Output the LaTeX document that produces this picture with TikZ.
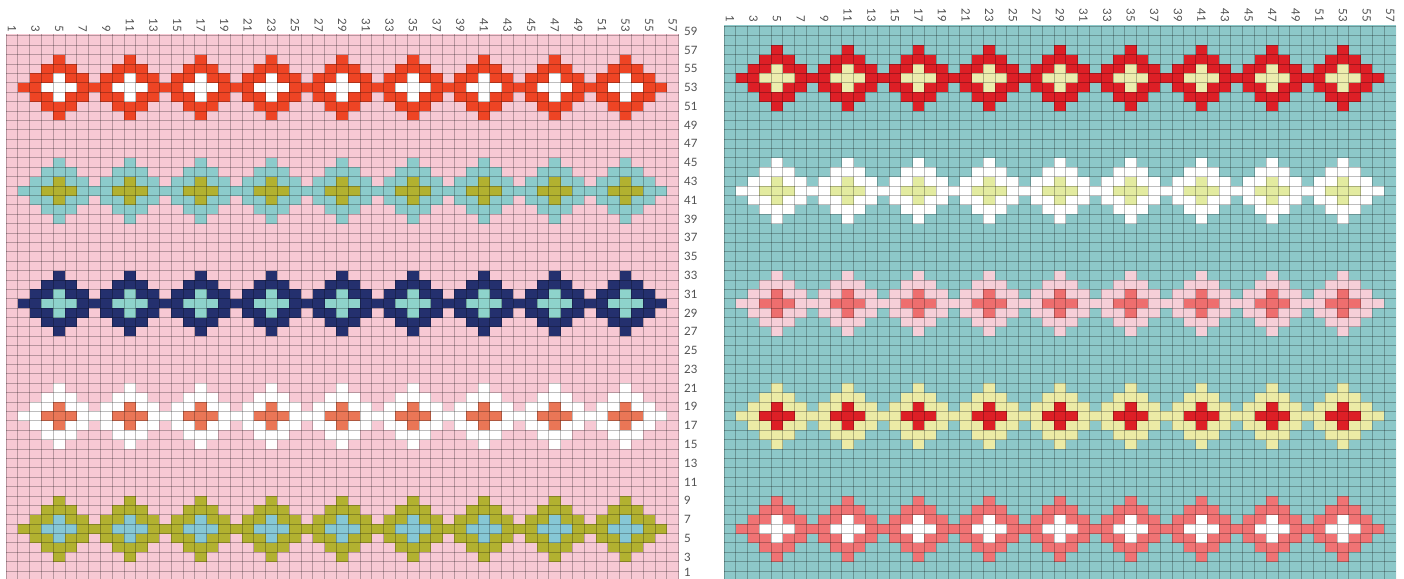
\documentclass[tikz,border=0pt]{standalone}
\usepackage{fontspec}
\setmainfont{Lato}
\definecolor{pinkbg}{HTML}{F7C9D4}
\definecolor{redL}{HTML}{EE4424}
\definecolor{tealL}{HTML}{8CCBCB}
\definecolor{oliveL}{HTML}{B2B130}
\definecolor{navyL}{HTML}{24306E}
\definecolor{lteal}{HTML}{8ED3CB}
\definecolor{orangeL}{HTML}{EA7656}
\definecolor{lblue}{HTML}{86C7D5}
\definecolor{tealbg}{HTML}{8DC8C9}
\definecolor{redR}{HTML}{DD1F26}
\definecolor{paleY}{HTML}{EDEDAE}
\definecolor{paleG}{HTML}{E3EBA0}
\definecolor{palepink}{HTML}{F6CFD8}
\definecolor{salmon}{HTML}{EE6E6E}
\definecolor{paleyellow}{HTML}{ECEBA6}
\definecolor{coral}{HTML}{F07374}
\definecolor{lbl}{HTML}{505050}
% #1 x0, #2 cell width, #3 y of top of row 59, #4 centre row, #5 outer, #6 inner
\newcommand\drawband[6]{%
  \foreach \m in {0,...,8}{%
    \pgfmathsetmacro\cc{5+6*\m}%
    \foreach \d in {-3,...,3}{%
      \pgfmathsetmacro\k{3-abs(\d)}%
      \fill[#5] ({#1+(\cc-\k-1)*#2},{#3+(59-#4-\d)*9.39}) rectangle ({#1+(\cc+\k)*#2},{#3+(60-#4-\d)*9.39});
    }%
    \fill[#6] ({#1+(\cc-2)*#2},{#3+(59-#4)*9.39}) rectangle ({#1+(\cc+1)*#2},{#3+(60-#4)*9.39});
    \fill[#6] ({#1+(\cc-1)*#2},{#3+(58-#4)*9.39}) rectangle ({#1+\cc*#2},{#3+(61-#4)*9.39});
  }%
}
\newcommand\drawgrid[3]{% #1 x0, #2 cell width, #3 top of row 59
  \foreach \i in {0,...,57}{\draw[gridline] ({#1+\i*#2},#3) -- ({#1+\i*#2},{#3+59*9.39});}
  \foreach \j in {0,...,59}{\draw[gridline] (#1,{#3+\j*9.39}) -- ({#1+57*#2},{#3+\j*9.39});}
}
\tikzset{
  gridline/.style={draw=black,opacity=0.26,line width=1pt},
  collabel/.style={rotate=-90,anchor=east,inner sep=0pt,text=lbl,font=\fontsize{11.5}{12}\selectfont},
  rowlabel/.style={anchor=west,inner sep=0pt,text=lbl,font=\fontsize{11.5}{12}\selectfont}
}
\begin{document}
\begin{tikzpicture}[x=1pt,y=-1pt]
\useasboundingbox (0,0) rectangle (1404,578);
\fill[white] (0,0) rectangle (1404,578);
% ---------- left chart ----------
\begin{scope}
  \clip (6,35) rectangle (679,578);
  \fill[pinkbg] (6,26.5) rectangle (679,581);
  \drawband{6}{11.8}{26.5}{53}{redL}{white}
  \drawband{6}{11.8}{26.5}{42}{tealL}{oliveL}
  \drawband{6}{11.8}{26.5}{30}{navyL}{lteal}
  \drawband{6}{11.8}{26.5}{18}{white}{orangeL}
  \drawband{6}{11.8}{26.5}{6}{oliveL}{lblue}
  \drawgrid{6}{11.8}{26.5}
\end{scope}
\foreach \c in {1,3,...,57}{
  \node[collabel] (lc\c) at ({6+(\c-0.5)*11.8},32) {\c};
}
\foreach \r in {3,5,...,59}{
  \node[rowlabel] (rl\r) at (684,{26.5+(59.5-\r)*9.39}) {\r};
}
\node[rowlabel] (rl1) at (684,572) {1};
% ---------- right chart ----------
\begin{scope}
  \clip (724,25.5) rectangle (1396,578);
  \fill[tealbg] (724,25.5) rectangle (1396,581);
  \drawband{724}{11.79}{26.5}{54}{redR}{paleY}
  \drawband{724}{11.79}{26.5}{42}{white}{paleG}
  \drawband{724}{11.79}{26.5}{30}{palepink}{salmon}
  \drawband{724}{11.79}{26.5}{18}{paleyellow}{redR}
  \drawband{724}{11.79}{26.5}{6}{coral}{white}
  \drawgrid{724}{11.79}{26.5}
\end{scope}
\foreach \c in {1,3,...,57}{
  \node[collabel] (rc\c) at ({724+(\c-0.5)*11.79},22) {\c};
}
\end{tikzpicture}
\end{document}
